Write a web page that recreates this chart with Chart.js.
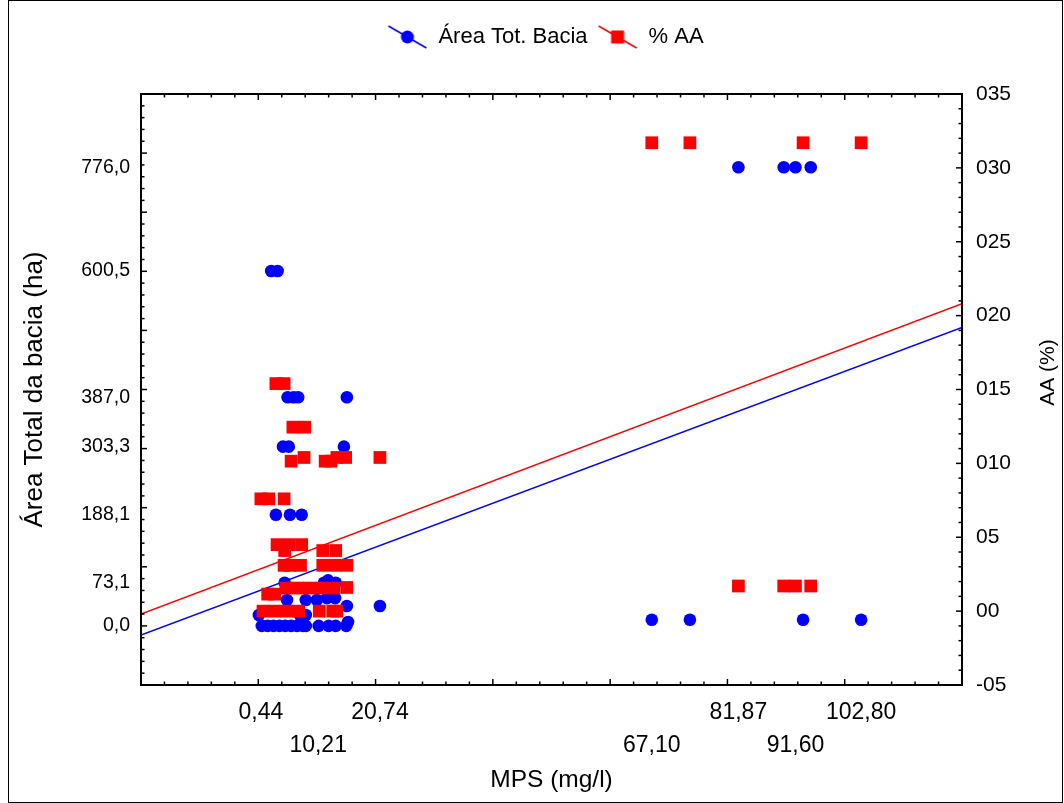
<!DOCTYPE html>
<html>
<head>
<meta charset="utf-8">
<script src="https://cdn.jsdelivr.net/npm/chart.js@4.4.0/dist/chart.umd.min.js"></script>
<style>
    html, body { margin: 0; padding: 0; background: #fff; }
</style>
</head>
<body>
<canvas id="myChart" width="1064" height="803"></canvas>
<script>
// blue series: MPS (mg/l) vs Área Total (ha)
const mpsArea = [
    81.87, 89.6, 91.6, 94.2,
    67.1, 73.6, 92.9, 102.8,
    2.2, 3.3,
    5.0, 6.0, 6.8, 15.1,
    4.2, 5.2, 14.6,
    3.0, 5.4, 7.4,
    4.5, 11.2, 11.9, 13.2,
    4.9, 8.1, 10.0, 11.7, 13.1,
    15.1, 20.74,
    0.1, 7.1, 8.1, 15.3,
    0.6, 1.6, 2.6, 3.6, 4.6, 5.6, 6.6, 7.6, 8.1, 10.3, 12.0, 13.2, 15.0
];
const areaValues = [
    776.0, 776.0, 776.0, 776.0,
    10.5, 10.5, 10.5, 10.5,
    600.5, 600.5,
    387.0, 387.0, 387.0, 387.0,
    303.3, 303.3, 303.3,
    188.1, 188.1, 188.1,
    73.1, 73.1, 77.0, 73.1,
    43.8, 43.8, 43.8, 47.0, 47.0,
    33.7, 33.7,
    18.4, 18.4, 18.4, 6.6,
    0, 0, 0, 0, 0, 0, 0, 0, 0, 0, 0, 0, 0
];

// red series: MPS (mg/l) vs AA (%)
const mpsAA = [
    67.1, 73.6, 92.9, 102.8,
    81.87, 89.6, 91.6, 94.2,
    3.0, 4.4,
    5.9, 7.9,
    5.6, 11.4, 12.4,
    7.8, 13.4, 14.9, 20.74,
    0.44, 1.8, 4.4,
    3.2, 5.3, 7.4,
    4.5, 11.0, 13.2,
    4.4, 5.4, 7.2, 11.0, 13.1, 15.1,
    1.6, 2.8,
    4.7, 6.75, 8.8, 10.85, 12.9, 15.1,
    0.8, 2.8, 4.9, 6.9, 10.4, 12.7, 13.4
];
const aaValues = [
    31.7, 31.7, 31.7, 31.7,
    1.7, 1.7, 1.7, 1.7,
    15.4, 15.4,
    12.45, 12.45,
    10.15, 10.15, 10.15,
    10.4, 10.4, 10.4, 10.4,
    7.6, 7.6, 7.6,
    4.5, 4.5, 4.5,
    4.1, 4.1, 4.1,
    3.1, 3.1, 3.1, 3.1, 3.1, 3.1,
    1.15, 1.15,
    1.56, 1.56, 1.56, 1.56, 1.56, 1.6,
    0, 0, 0, 0, 0, 0, 0
];

// fitted lines (ends of the x range)
const fitX = [-20, 120];
const areaFit = [-15.4, 505];
const aaFit = [-0.2, 20.8];

const xTickValues = [0.44, 10.21, 20.74, 67.10, 81.87, 91.60, 102.80];
const areaTickValues = [0, 73.1, 188.1, 303.3, 387.0, 600.5, 776.0];
const legendLabels = ['Área Tot. Bacia', '% AA'];

const FONT = "'Liberation Sans', Arial, sans-serif";
const BLUE = '#0000ff';
const RED = '#ff0000';

function makeIcon(color, square) {
    const c = document.createElement('canvas');
    c.width = 40;
    c.height = 24;
    const g = c.getContext('2d');
    g.strokeStyle = color;
    g.lineWidth = 1.5;
    g.beginPath();
    g.moveTo(1, 1);
    g.lineTo(39, 23);
    g.stroke();
    g.fillStyle = color;
    if (square) {
        g.fillRect(13.5, 5.5, 13, 13);
    } else {
        g.beginPath();
        g.arc(20, 12, 6.5, 0, Math.PI * 2);
        g.fill();
    }
    return c;
}
const legendIcons = [makeIcon(BLUE, false), makeIcon(RED, true)];

const frame = {
    id: 'frame',
    afterDraw(chart) {
        const {ctx, chartArea: a, scales} = chart;
        ctx.save();
        ctx.strokeStyle = '#000';
        ctx.lineWidth = 1;
        ctx.strokeRect(8.5, 0.5, 1054, 802);
        ctx.lineWidth = 2;
        ctx.strokeRect(a.left, a.top, a.right - a.left, a.bottom - a.top);
        ctx.lineWidth = 1.5;
        const mark = (x1, y1, x2, y2) => {
            ctx.beginPath();
            ctx.moveTo(x1, y1);
            ctx.lineTo(x2, y2);
            ctx.stroke();
        };
        for (let v = -20; v <= 120; v += 4) {
            const px = scales.x.getPixelForValue(v);
            const len = v % 20 === 0 ? 6 : 3.5;
            mark(px, a.bottom, px, a.bottom - len);
            mark(px, a.top, px, a.top + len);
        }
        for (let v = -100; v <= 900; v += 20) {
            const py = scales.y.getPixelForValue(v);
            mark(a.left, py, a.left + (v % 100 === 0 ? 6 : 3.5), py);
        }
        for (let v = -5; v <= 35; v += 1) {
            const py = scales.y1.getPixelForValue(v);
            mark(a.right, py, a.right - (v % 5 === 0 ? 6 : 3.5), py);
        }
        // right axis title reads bottom to top like the left one
        ctx.fillStyle = '#000';
        ctx.font = '21px ' + FONT;
        ctx.textAlign = 'center';
        ctx.textBaseline = 'middle';
        ctx.translate(scales.y1.right - 16, (a.top + a.bottom) / 2 - 17);
        ctx.rotate(-Math.PI / 2);
        ctx.fillText('AA (%)', 0, 0);
        ctx.restore();
    }
};

const toPoints = (xs, ys) => xs.map((x, i) => ({x: x, y: ys[i]}));
const comma = (v, d) => v.toFixed(d).replace('.', ',');

new Chart(document.getElementById('myChart'), {
    type: 'scatter',
    data: {
        datasets: [
            {
                label: legendLabels[0],
                data: toPoints(mpsArea, areaValues),
                yAxisID: 'y',
                pointStyle: 'circle',
                pointRadius: 6.3,
                backgroundColor: BLUE,
                borderWidth: 0,
                order: 1
            },
            {
                label: legendLabels[1],
                data: toPoints(mpsAA, aaValues),
                yAxisID: 'y1',
                pointStyle: 'rect',
                pointRadius: 9,
                backgroundColor: RED,
                borderWidth: 0,
                order: 0
            },
            {
                type: 'line',
                data: toPoints(fitX, areaFit),
                yAxisID: 'y',
                borderColor: BLUE,
                borderWidth: 1.5,
                pointRadius: 0,
                order: 2
            },
            {
                type: 'line',
                data: toPoints(fitX, aaFit),
                yAxisID: 'y1',
                borderColor: RED,
                borderWidth: 1.5,
                pointRadius: 0,
                order: 3
            }
        ]
    },
    options: {
        responsive: false,
        animation: false,
        devicePixelRatio: 1,
        layout: { padding: { top: 16, left: 27, right: 0, bottom: 0 } },
        plugins: {
            tooltip: { enabled: false },
            legend: {
                position: 'top',
                labels: {
                    usePointStyle: true,
                    pointStyleWidth: 40,
                    padding: 10,
                    color: '#000',
                    font: { family: FONT, size: 22 },
                    generateLabels: () => legendLabels.map((text, i) => ({
                        text: text,
                        pointStyle: legendIcons[i],
                        fillStyle: 'transparent',
                        strokeStyle: 'transparent',
                        lineWidth: 0,
                        hidden: false,
                        datasetIndex: i,
                        fontColor: '#000'
                    }))
                }
            }
        },
        scales: {
            x: {
                type: 'linear',
                position: 'bottom',
                min: -20,
                max: 120,
                afterBuildTicks: s => { s.ticks = xTickValues.map(v => ({value: v})); },
                afterFit: s => { s.height = 118; },
                grid: { display: false, drawTicks: false },
                border: { display: false },
                ticks: {
                    autoSkip: false,
                    maxRotation: 0,
                    padding: 11,
                    color: '#000',
                    font: { family: FONT, size: 23, lineHeight: '33px' },
                    callback: (v, i) => i % 2 === 0 ? [comma(v, 2), ''] : ['', comma(v, 2)]
                },
                title: {
                    display: true,
                    text: 'MPS (mg/l)',
                    color: '#000',
                    font: { family: FONT, size: 24.5 },
                    padding: { bottom: 8 }
                }
            },
            xTop: {
                type: 'linear',
                position: 'top',
                min: -20,
                max: 120,
                ticks: { display: false },
                grid: { display: false, drawTicks: false },
                border: { display: false },
                afterFit: s => { s.height = 36; }
            },
            y: {
                type: 'linear',
                position: 'left',
                min: -100,
                max: 900,
                afterBuildTicks: s => { s.ticks = areaTickValues.map(v => ({value: v})); },
                afterFit: s => { s.width = 114; },
                grid: { display: false, drawTicks: false },
                border: { display: false },
                ticks: {
                    padding: 11,
                    color: '#000',
                    font: { family: FONT, size: 19.5 },
                    callback: v => comma(v, 1)
                },
                title: {
                    display: true,
                    text: 'Área Total da bacia (ha)',
                    color: '#000',
                    font: { family: FONT, size: 26 },
                    padding: { top: -8 }
                }
            },
            y1: {
                type: 'linear',
                position: 'right',
                min: -5,
                max: 35,
                afterFit: s => { s.width = 102; },
                grid: { display: false, drawTicks: false },
                border: { display: false },
                ticks: {
                    stepSize: 5,
                    padding: 14,
                    color: '#000',
                    font: { family: FONT, size: 21 },
                    callback: v => (v < 0 ? '-' : '') + '0' + Math.abs(v)
                }
            }
        }
    },
    plugins: [frame]
});
</script>
</body>
</html>
